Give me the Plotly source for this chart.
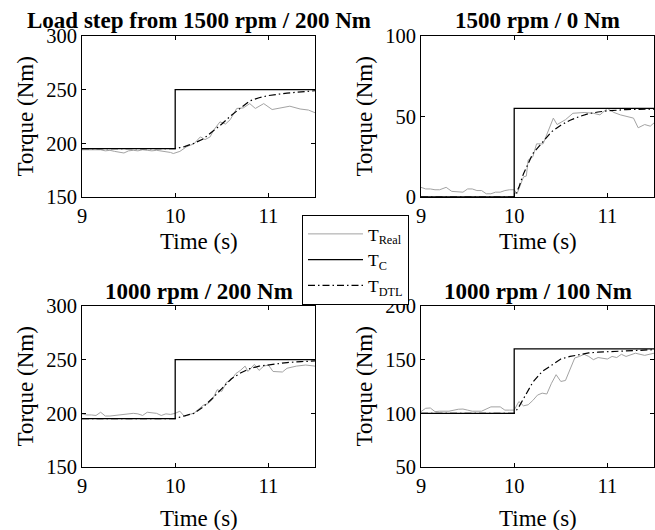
import plotly.graph_objects as go

# ---------------- data ----------------
titles = ["Load step from 1500 rpm / 200 Nm", "1500 rpm / 0 Nm",
          "1000 rpm / 200 Nm", "1000 rpm / 100 Nm"]
y_ranges = [[150, 300], [0, 100], [150, 300], [50, 200]]
y_ticks = [[150, 200, 250, 300], [0, 50, 100], [150, 200, 250, 300], [50, 100, 150, 200]]
x_ticks = [9, 10, 11]

# commanded torque (step)
tc_time = [9.0, 10.0, 10.0, 11.5]
tc_1 = [195, 195, 250, 250]
tc_2 = [0, 0, 55, 55]
tc_3 = [195, 195, 250, 250]
tc_4 = [100, 100, 160, 160]

# DTL estimate
dtl_time = [9.0, 10.0, 10.05, 10.1, 10.2, 10.3, 10.4, 10.5, 10.6, 10.7, 10.8, 10.9, 11.0, 11.2, 11.35, 11.5]
dtl_1 = [195, 195, 196, 197, 200, 204, 211, 218, 226, 233, 239.5, 242.5, 244.5, 246.8, 248.2, 249]
dtl_2 = [0, 0, 6, 14.5, 27, 34, 40.5, 44.6, 47.7, 50, 51.8, 52.8, 53.5, 54.3, 54.5, 54.6]
dtl_3 = [195, 195, 196.5, 197.5, 200, 206, 214, 223, 232, 237.5, 241.6, 244, 245.3, 247.3, 248.2, 248.8]
dtl_4 = [100, 100, 106, 114, 129, 139, 145, 150.6, 153, 155, 156.3, 157, 157.5, 158.5, 159, 159.3]

# measured torque
real_time_1 = [9.0, 9.05, 9.1, 9.15, 9.2, 9.25, 9.3, 9.35, 9.4, 9.45, 9.5, 9.55, 9.6, 9.65, 9.7, 9.75,
               9.8, 9.85, 9.9, 9.95, 9.98, 10.05, 10.125, 10.2, 10.27, 10.32, 10.375, 10.41, 10.48,
               10.54, 10.59, 10.66, 10.73, 10.8, 10.86, 10.95, 11.04, 11.125, 11.23, 11.34, 11.43, 11.5]
real_1 = [194, 194, 194, 193.5, 194, 193, 193.5, 192.5, 192, 191, 193, 193.5, 193, 194, 193.5, 193,
          193.5, 193, 192.5, 191.5, 190.5, 192.5, 197, 199.5, 206, 203.5, 206, 212, 220,
          218, 222, 232.5, 233, 237, 232.5, 237, 231.5, 233, 234.6, 232, 231, 228.5]

real_time_2 = [9.0, 9.05, 9.1, 9.15, 9.2, 9.27, 9.33, 9.4, 9.45, 9.5, 9.55, 9.6, 9.65, 9.7, 9.75,
               9.8, 9.85, 9.9, 9.95, 10.0, 10.03, 10.05, 10.1, 10.13, 10.15, 10.2, 10.24, 10.31,
               10.35, 10.42, 10.46, 10.5, 10.55, 10.63, 10.75, 10.85, 10.92, 11.0, 11.07, 11.14,
               11.22, 11.28, 11.33, 11.4, 11.46, 11.5]
real_2 = [6, 5, 5, 4.5, 4.5, 6, 3.5, 3, 3, 5, 5, 4, 4, 2, 2,
          3, 3, 4, 4.5, 4.5, 2, 5, 12.5, 13, 23, 25, 33, 33,
          39, 49, 45, 46.5, 48, 52, 52.5, 52, 51, 55, 52.5, 51,
          50, 49, 43, 45, 44, 46]

real_time_3 = [9.0, 9.05, 9.1, 9.15, 9.2, 9.25, 9.3, 9.35, 9.4, 9.45, 9.5, 9.55, 9.6, 9.65, 9.7,
               9.75, 9.8, 9.85, 9.9, 9.95, 10.0, 10.05, 10.1, 10.15, 10.2, 10.3, 10.35, 10.4, 10.45,
               10.5, 10.55, 10.6, 10.65, 10.7, 10.75, 10.78, 10.85, 10.9, 10.95, 11.0, 11.05, 11.15,
               11.2, 11.3, 11.4, 11.5]
real_3 = [199.5, 198.5, 198.5, 198, 201, 197.5, 197.5, 198, 198.5, 199.5, 200, 200, 199.5, 198, 201,
          200.5, 200, 198, 199.5, 199, 200, 202, 197, 199, 200, 207.5, 209, 213, 222,
          220.5, 229, 231, 237, 240, 244, 239, 245.6, 240, 244, 245, 239, 238.5,
          242, 244, 245, 244]

real_time_4 = [9.0, 9.05, 9.1, 9.15, 9.2, 9.3, 9.4, 9.45, 9.5, 9.55, 9.65, 9.75, 9.85, 9.9, 9.95,
               10.0, 10.05, 10.1, 10.15, 10.2, 10.25, 10.3, 10.35, 10.4, 10.45, 10.5, 10.55, 10.6,
               10.65, 10.7, 10.75, 10.8, 10.85, 10.9, 11.0, 11.05, 11.1, 11.15, 11.2, 11.3, 11.4, 11.5]
real_4 = [101.6, 104.7, 105, 101.6, 102, 102, 103.8, 104, 103, 102, 102, 106, 106, 103, 103,
          103, 111, 107, 108, 112, 117, 118.8, 118, 128, 136, 129.7, 130.6, 140.6,
          151.6, 153, 155, 153, 150, 152, 150.6, 153, 152, 155, 153, 156, 154, 156]

tc_all = [tc_1, tc_2, tc_3, tc_4]
dtl_all = [dtl_1, dtl_2, dtl_3, dtl_4]
real_t_all = [real_time_1, real_time_2, real_time_3, real_time_4]
real_all = [real_1, real_2, real_3, real_4]

legend_names = ["T<sub>Real</sub>", "T<sub>C</sub>", "T<sub>DTL</sub>"]

# ---------------- layout geometry ----------------
W, H = 655, 530
x_domains = [[82 / W, 315 / W], [421 / W, 654 / W]]
y_domains = [[1 - 197 / H, 1 - 36 / H], [1 - 467 / H, 1 - 306 / H]]
FONT = "Liberation Serif"
GRAY = "#a3a3a3"

fig = go.Figure()
for i in range(4):
    r, c = divmod(i, 2)
    ax = "" if i == 0 else str(i + 1)
    xa, ya = "x" + ax, "y" + ax
    show = i == 0
    fig.add_trace(go.Scatter(x=real_t_all[i], y=real_all[i], mode="lines", name=legend_names[0],
                             line=dict(color=GRAY, width=1), xaxis=xa, yaxis=ya,
                             showlegend=show, legendgroup="r"))
    fig.add_trace(go.Scatter(x=tc_time, y=tc_all[i], mode="lines", name=legend_names[1],
                             line=dict(color="black", width=1.3), xaxis=xa, yaxis=ya,
                             showlegend=show, legendgroup="c"))
    fig.add_trace(go.Scatter(x=dtl_time, y=dtl_all[i], mode="lines", name=legend_names[2],
                             line=dict(color="black", width=1.2, dash="7px,3px,1.5px,3px"),
                             xaxis=xa, yaxis=ya, showlegend=show, legendgroup="d"))

    axis_common = dict(showline=True, mirror="ticks", linecolor="black", linewidth=1,
                       ticks="inside", ticklen=4, tickcolor="black", showgrid=False,
                       zeroline=False, automargin=False,
                       tickfont=dict(family=FONT, size=20.5, color="black"))
    fig.layout["xaxis" + ax] = dict(domain=x_domains[c], range=[9, 11.5], tickvals=x_ticks,
                                    anchor=ya, **axis_common)
    fig.layout["yaxis" + ax] = dict(domain=y_domains[r], range=y_ranges[i], tickvals=y_ticks[i],
                                    anchor=xa, **axis_common)

    xc = (x_domains[c][0] + x_domains[c][1]) / 2
    yc = (y_domains[r][0] + y_domains[r][1]) / 2
    title_y = [1 - 21 / H, 1 - 291 / H][r]
    xlab_y = [1 - 241 / H, 1 - 518 / H][r]
    ylab_x = [25 / W, 364 / W][c]
    fig.add_annotation(text="<b>" + titles[i] + "</b>", x=xc, y=title_y, xref="paper", yref="paper",
                       showarrow=False, xanchor="center", yanchor="middle",
                       font=dict(family=FONT, size=23, color="black"))
    fig.add_annotation(text="Time (s)", x=xc, y=xlab_y, xref="paper", yref="paper",
                       showarrow=False, xanchor="center", yanchor="middle",
                       font=dict(family=FONT, size=23, color="black"))
    fig.add_annotation(text="Torque (Nm)", x=ylab_x, y=yc, xref="paper", yref="paper",
                       showarrow=False, xanchor="center", yanchor="middle", textangle=-90,
                       font=dict(family=FONT, size=23, color="black"))

fig.update_layout(
    width=W, height=H,
    margin=dict(l=0, r=0, t=0, b=0, autoexpand=False),
    paper_bgcolor="white", plot_bgcolor="white",
    showlegend=True,
    legend=dict(x=302 / W, y=1 - 215 / H, xanchor="left", yanchor="top",
                bgcolor="white", bordercolor="black", borderwidth=1,
                font=dict(family=FONT, size=17.5, color="black"),
                itemwidth=55, tracegroupgap=0),
)

fig.write_html("out.html", config={"displayModeBar": False},
               post_script="document.body.style.margin='0';document.body.style.overflow='hidden';")
